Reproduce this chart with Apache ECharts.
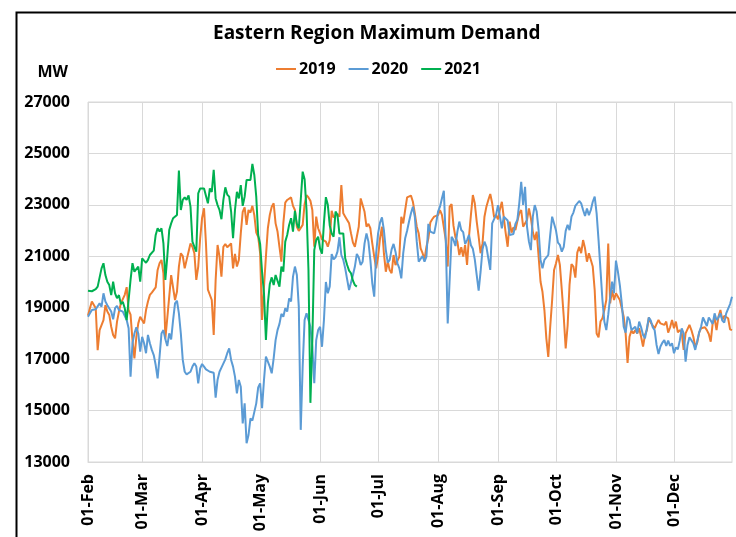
<!DOCTYPE html>
<html>
<head>
<meta charset="utf-8">
<script src="https://cdn.jsdelivr.net/npm/echarts@6/dist/echarts.min.js"></script>
<style>
html,body{margin:0;padding:0;background:#fff;}
#chart{width:736px;height:537px;}
</style>
</head>
<body>
<div id="chart"></div>
<script>
// ---- categories (day labels, Feb 1 .. Dec 31) ----
var monthNames = ['Feb','Mar','Apr','May','Jun','Jul','Aug','Sep','Oct','Nov','Dec'];
var monthDays  = [28,31,30,31,30,31,31,30,31,30,31];
var yTicks = [13000, 15000, 17000, 19000, 21000, 23000, 25000, 27000];
var seriesNames = ['2019','2020','2021'];

// ---- series values (MW), one per day from 01-Feb ----
var y2019 = [
18700,18980,19240,19170,18980,17350,18130,18070,18520,19100,
18850,18720,18260,17940,17810,18460,18850,19170,19240,19500,
19800,18910,18730,17740,17030,17870,18390,18650,18650,18390,
18910,19240,19500,19590,19640,19790,20470,20730,20860,20340,
17800,18600,19430,20270,20210,19300,19620,20600,21120,21010,
20530,20860,21180,21500,21370,21120,20080,20600,21700,22500,
22870,21500,19700,19650,19300,17940,20080,21440,20990,20210,
21370,21480,21350,21280,21500,20530,21090,20600,20860,21890,
22730,22900,22220,22800,22700,22960,22600,21920,21760,21120,
18520,19820,20990,22090,22610,22930,23060,22280,21960,21370,
20790,22280,23090,23190,23230,23290,22960,22800,22150,21990,
21920,22220,23030,23380,23290,23160,22800,21370,22540,22090,
21890,21660,21660,21570,21370,21630,22770,22510,22460,22640,
22540,23770,22670,22540,22510,22280,21890,21530,21370,21440,
22150,23250,23240,22730,22150,22260,22090,21500,20990,20530,
20990,21700,22150,21120,20400,20790,20470,20340,21050,20660,
20730,20990,22540,22280,22800,23290,23230,23360,23120,22670,
22150,21890,21310,21120,20880,21370,21700,22310,22440,22540,
22510,22600,22800,22610,22130,21630,20600,22930,23030,22180,
21740,21570,21050,21350,20990,21440,20660,21760,22610,23380,
23060,22350,21760,21120,21500,22540,22930,23190,23420,23060,
22510,22600,22440,22830,23120,23190,21890,21370,22350,21920,
22130,22020,22360,22670,22800,22150,22090,22410,22860,22480,
21960,21630,21960,20990,20010,19620,18910,17810,17090,18260,
19300,20470,20730,21050,20660,19690,18650,17420,18300,19900,
20700,20600,20170,21140,21370,21120,21630,21310,20790,21120,
21090,20600,19690,18000,17850,18460,18590,18910,19300,21500,
19170,19690,19300,19560,19620,19300,18980,18650,18000,16850,
17870,18110,18000,18130,18000,18200,17870,17490,17940,18130,
18620,18420,18420,18200,18370,18520,18390,18460,18330,18460,
18030,18240,18520,18200,18460,18040,18130,18030,17360,18000,
17940,18330,18130,17870,17490,17640,18030,18200,18160,18240,
18130,17980,17680,18390,18590,18130,18650,18910,18520,18680,
18720,18590,18160,18130
];
var y2020 = [
18650,18780,18910,18980,18940,18980,19170,19040,19560,19240,
19100,19170,18850,18550,18980,19070,18910,18980,18850,18680,
18520,18200,16320,17620,18000,18240,18000,17290,17870,17620,
17230,17940,17620,17360,17160,16770,16250,17100,18000,18130,
17770,17510,18000,17770,18520,19170,19270,18780,18000,16970,
16510,16410,16420,16510,16710,16840,16710,16060,16640,16810,
16710,16600,16550,16510,16510,16470,15500,16200,16510,16670,
16710,16990,17230,17420,16970,16710,16320,15670,16190,15930,
14500,15280,13730,14050,14700,14610,14570,15280,15900,16060,
15090,16190,17100,17120,16710,16450,17030,17740,18130,18370,
18760,18650,18980,18850,19360,19240,20210,20600,20270,19040,
14250,16710,18520,18780,18520,18260,17480,16060,17740,18130,
18260,17480,18520,20000,19560,19830,21090,20880,20960,21180,
21740,21050,20860,20530,20100,19690,19750,20270,20600,21090,
20950,20660,20790,21500,21890,21570,20860,19950,19430,21120,
21890,22310,22510,22020,21240,20750,20860,21270,21480,21180,
20730,20530,20140,21120,21700,21990,22350,22670,22930,22540,
21570,20790,20730,21010,20790,20990,22260,21960,22020,21890,
22280,22740,22930,23250,23550,21630,18390,20080,21760,21630,
21400,21960,22350,22020,21940,21480,21630,21830,21430,21290,
20880,20270,19660,20400,21270,21570,21370,20920,20470,22280,
22310,22610,22990,22930,22090,22540,22590,22390,21830,21760,
21870,22260,22410,23060,23900,23000,23700,22150,21570,21240,
22540,22990,22740,22020,20860,20530,20860,20880,21050,21830,
22540,22610,22000,21530,21440,21180,21370,21990,22220,22020,
22540,22700,22960,22930,23150,23060,22800,22570,22860,22600,
22800,23120,23320,22670,21630,20470,19300,18460,18130,18720,
19430,20010,19560,20830,20400,19880,19170,18260,18030,18650,
18520,18130,18130,18260,18000,18460,18240,17940,17810,18200,
18620,18500,18240,18130,17550,17200,17490,17640,17740,17510,
17720,17510,17620,17230,17460,17380,17720,18200,18000,16900,
17550,17850,17810,17620,17360,17290,18030,18260,18620,18620,
18290,18620,18500,18370,18780,18520,18620,18780,18500,18420,
18780,18850,19140,19430
];
var y2021 = [
19660,19690,19640,19610,19720,19820,19880,20530,20730,20270,
20010,19880,19490,20010,19560,19370,19490,19140,19230,18980,
18520,19300,20080,20730,20400,20470,20600,20010,20920,20830,
20750,20860,21050,21110,21220,21830,22090,21960,22090,21500,
20080,20990,22020,22280,22480,22410,22610,24330,22800,23190,
23290,23190,23370,22930,21570,21370,21180,23450,23640,23600,
23640,23710,23060,23640,23500,24360,23250,22990,22800,22440,
23190,23680,23400,23320,22740,21700,22800,23510,23250,23770,
22960,23320,23970,23990,23970,24590,24160,23320,21830,21480,
20400,19560,17750,19170,19920,20180,19880,20270,20210,19820,
20600,20400,21570,21830,22220,22480,21960,22770,22260,22090,
23190,24290,24000,22800,20470,15300,17740,21240,21630,21760,
21300,21100,22300,23300,23000,22200,21890,21760,22740,22610,
21890,21890,21890,20920,20660,20440,20340,20050,19880,19820
];

// ---- build category labels ----
var categories = [];
for (var m = 0; m < monthNames.length; m++) {
  for (var d = 1; d <= monthDays[m]; d++) {
    categories.push((d < 10 ? '0' + d : '' + d) + '-' + monthNames[m]);
  }
}
function isMonthStart(i, v) { return String(v).indexOf('01-') === 0; }

var FONT = 'Open Sans';
var colors = ['#ED7D31', '#5B9BD5', '#00B050'];
var values = [y2019, y2020, y2021];

var chart = echarts.init(document.getElementById('chart'), null, {renderer: 'canvas'});
chart.setOption({
  animation: false,
  backgroundColor: '#fff',
  color: colors,
  title: {
    text: 'Eastern Region Maximum Demand',
    left: 213, top: 24, padding: 0,
    textStyle: {fontFamily: FONT, fontWeight: 'bold', fontSize: 19, color: '#000'}
  },
  legend: {
    data: seriesNames,
    left: 276, top: 61, padding: 0,
    itemWidth: 20, itemHeight: 2, itemGap: 13,
    icon: 'rect',
    textStyle: {fontFamily: FONT, fontWeight: 'bold', fontSize: 16, color: '#000', padding: [0,0,0,-2]}
  },
  graphic: [{
    type: 'rect', left: 14, top: 10, z: 100, silent: true,
    shape: {width: 760, height: 560},
    style: {fill: 'none', stroke: '#000', lineWidth: 2}
  }],
  grid: {
    left: 88, right: 4, top: 102, bottom: 75,
    show: true, borderColor: '#D9D9D9', borderWidth: 1, backgroundColor: 'transparent'
  },
  xAxis: {
    type: 'category',
    data: categories,
    boundaryGap: false,
    axisLine: {show: true, lineStyle: {color: '#D9D9D9'}},
    axisTick: {show: false},
    axisLabel: {
      interval: isMonthStart, rotate: 90, margin: 12,
      fontFamily: FONT, fontWeight: 'bold', fontSize: 16, color: '#000'
    },
    splitLine: {show: true, interval: isMonthStart, lineStyle: {color: '#D9D9D9', width: 1}}
  },
  yAxis: {
    type: 'value',
    min: yTicks[0], max: yTicks[yTicks.length - 1], interval: yTicks[1] - yTicks[0],
    name: 'MW', nameLocation: 'end', nameGap: 30,
    nameTextStyle: {fontFamily: FONT, fontWeight: 'bold', fontSize: 16, color: '#000', align: 'right', verticalAlign: 'middle', padding: [0, 20, 0, 0]},
    axisLine: {show: false},
    axisTick: {show: false},
    axisLabel: {
      margin: 18, fontFamily: FONT, fontWeight: 'bold', fontSize: 16, color: '#000',
      formatter: function (v) { return String(v); }
    },
    splitLine: {show: true, lineStyle: {color: '#D9D9D9', width: 1}}
  },
  series: seriesNames.map(function (n, i) {
    return {
      name: n, type: 'line', data: values[i],
      showSymbol: false, symbol: 'none',
      lineStyle: {width: 2, color: colors[i]},
      itemStyle: {color: colors[i]},
      z: 2 + i
    };
  })
});
</script>
</body>
</html>
